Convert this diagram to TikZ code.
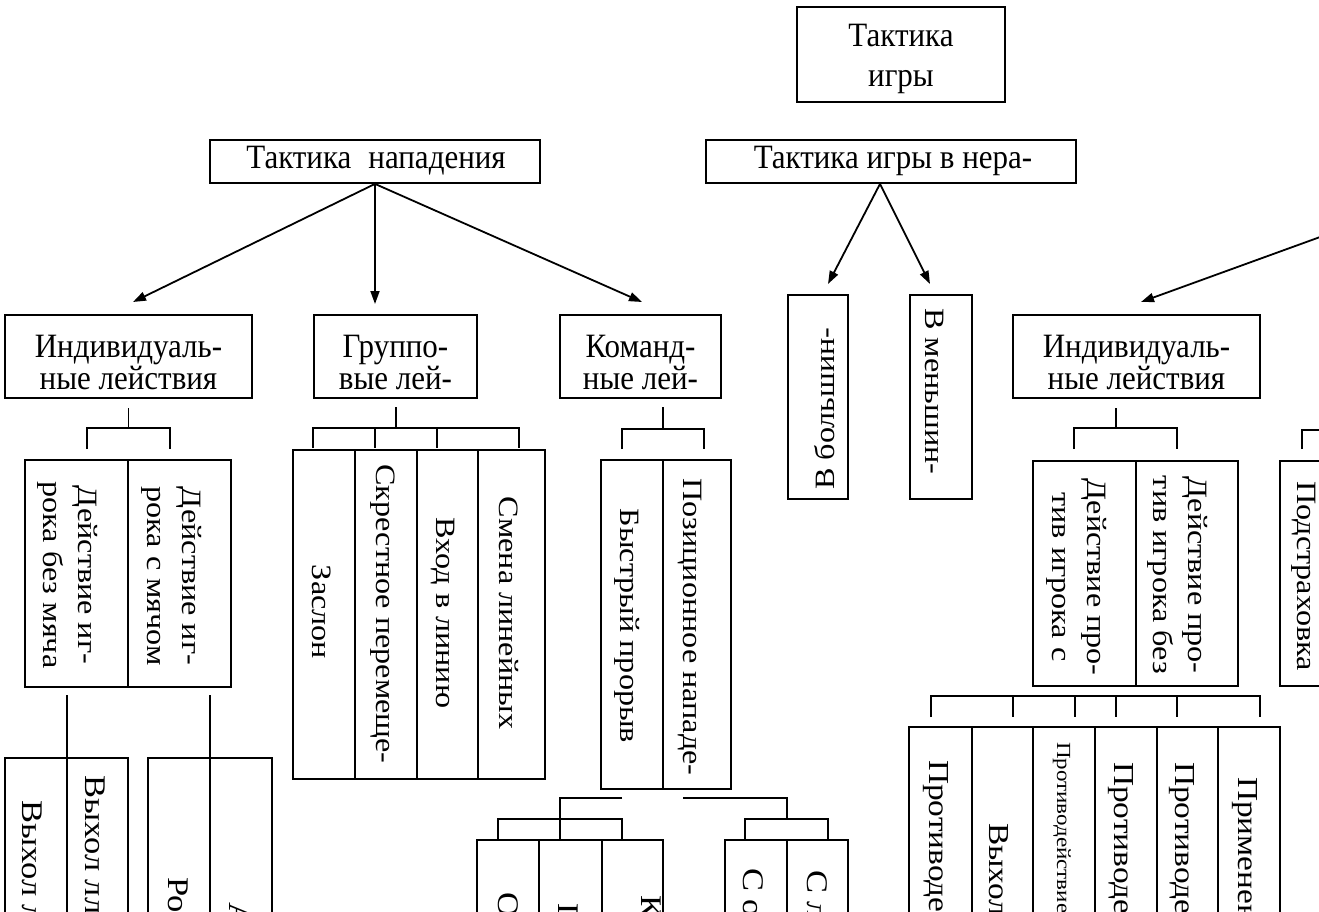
\documentclass[tikz,border=0pt]{standalone}
\usepackage{fontspec}
\setmainfont{Liberation Serif}
\usepackage{graphicx}
\usetikzlibrary{arrows.meta}

% horizontal text: optional baselineskip, stretched vertically
\newcommand\hz[2][27.3]{{\fontsize{31}{#1}\selectfont\scalebox{1}[1.1]{\begin{tabular}[t]{@{}c@{}}#2\end{tabular}}}}
% vertical text: optional font size, stretched along the reading direction
\newcommand\vz[2][28]{{\fontsize{#1}{35}\selectfont\scalebox{1.15}[1]{\begin{tabular}[t]{@{}c@{}}#2\end{tabular}}}}
% box from (x1,y1) to (x2,y2), pixel units, y downward
\newcommand\bx[5]{\node[box, minimum width={(#4-#2)*1pt}, minimum height={(#5-#3)*1pt}] (#1) at ({(#2+#4)/2},{(#3+#5)/2}) {};}

\tikzset{
  box/.style={draw, line width=1.8pt, inner sep=0pt},
  ln/.style={line width=1.8pt},
  arr/.style={line width=1.8pt, -{Triangle[length=13pt,width=9pt]}},
  ht/.style={inner sep=0pt, anchor=base},
  vc/.style={inner sep=0pt, anchor=base, rotate=-90},
  vs/.style={inner sep=0pt, anchor=base west, rotate=-90},
}

\begin{document}
\begin{tikzpicture}[x=1pt,y=-1pt]
\useasboundingbox (0,0) rectangle (1319,912);
\fill[white] (0,0) rectangle (1319,912);
\clip (0,0) rectangle (1319,912);

% ---------- boxes ----------
\bx{tg}{797}{7}{1005}{102}
\bx{tn}{210}{140}{540}{183}
\bx{tnr}{706}{140}{1076}{183}
\bx{indL}{5}{315}{252}{398}
\bx{grp}{314}{315}{477}{398}
\bx{kom}{560}{315}{721}{398}
\bx{indR}{1013}{315}{1260}{398}
\bx{bol}{788}{295}{848}{499}
\bx{men}{910}{295}{972}{499}
\bx{dL1}{25}{460}{128}{687}
\bx{dL2}{128}{460}{231}{687}
\bx{g1}{293}{450}{355}{779}
\bx{g2}{355}{450}{417}{779}
\bx{g3}{417}{450}{478}{779}
\bx{g4}{478}{450}{545}{779}
\bx{k1}{601}{460}{663}{789}
\bx{k2}{663}{460}{731}{789}
\bx{b1}{5}{758}{67}{960}
\bx{b2}{67}{758}{128}{960}
\bx{b3}{148}{758}{210}{960}
\bx{b4}{210}{758}{272}{960}
\bx{p1}{477}{840}{539}{960}
\bx{p2}{539}{840}{602}{960}
\bx{p3}{602}{840}{663}{960}
\bx{s1}{725}{840}{787}{960}
\bx{s2}{787}{840}{848}{960}
\bx{dR1}{1033}{461}{1136}{686}
\bx{dR2}{1136}{461}{1238}{686}
\bx{pod}{1280}{461}{1380}{686}
\bx{r1}{909}{727}{972}{960}
\bx{r2}{972}{727}{1033}{960}
\bx{r3}{1033}{727}{1095}{960}
\bx{r4}{1095}{727}{1157}{960}
\bx{r5}{1157}{727}{1218}{960}
\bx{r6}{1218}{727}{1280}{960}

% ---------- horizontal texts ----------
\node[ht] (tgT) at (901,47) {\hz[36]{Тактика\\игры}};
\node[ht] (tnT) at (376,169) {\hz{Тактика\hspace{.3em} нападения}};
\node[ht] (tnrT) at (893,169) {\hz{Тактика игры в нера-}};
\node[ht] (indLT) at (128.5,357) {\hz{Индивидуаль-\\ные лействия}};
\node[ht] (grpT) at (395.5,357) {\hz{Группо-\\вые лей-}};
\node[ht] (komT) at (640.5,357) {\hz{Команд-\\ные лей-}};
\node[ht] (indRT) at (1136.5,357) {\hz{Индивидуаль-\\ные лействия}};

% ---------- vertical texts ----------
\node[vc] (dL1T) at (78,575) {\vz{Действие иг-\\рока без мяча}};
\node[vc] (dL2T) at (182,576) {\vz{Действие иг-\\рока с мячом}};
\node[vc] (g1T) at (312,612) {\vz{Заслон}};
\node[vc] (g2T) at (376,614) {\vz{Скрестное перемеще-}};
\node[vc] (g3T) at (436,613) {\vz{Вход в линию}};
\node[vc] (g4T) at (499,613) {\vz{Смена линейных}};
\node[vc] (k1T) at (620,626) {\vz{Быстрый прорыв}};
\node[vc] (k2T) at (683,627) {\vz{Позиционное нападе-}};
\node[vc] (dR1T) at (1087,577) {\vz{Действие про-\\тив игрока с}};
\node[vc] (dR2T) at (1188,575) {\vz{Действие про-\\тив игрока без}};
\node[vc] (podT) at (1297,576) {\vz{Подстраховка}};
\node[inner sep=0pt, anchor=base west, rotate=90] (bolT) at (834,490) {\vz{В большин-}};
\node[vs] (menT) at (925,308) {\vz{В меньшин-}};

\node[vs] (b1T) at (23,800) {\vz[30]{Выхол лля}};
\node[vs] (b2T) at (85,775) {\vz[30]{Выхол лля}};
\node[vs] (b3T) at (168,877) {\vz[30]{Ро}};
\node[vs] (b4T) at (229,902) {\vz[30]{А}};
\node[vs] (p1T) at (498,892) {\vz[30]{О}};
\node[vs] (p2T) at (558,903) {\vz[30]{П}};
\node[vs] (p3T) at (641,895) {\vz[30]{К}};
\node[vs] (s1T) at (743,868) {\vz[30]{С о}};
\node[vs] (s2T) at (807,870) {\vz[30]{С л}};
\node[vs] (r1T) at (929,760) {\vz[29]{Противодей}};
\node[vs] (r2T) at (989,823) {\vz[29]{Выхол}};
\node[vs] (r3T) at (1057,742) {\vz[20]{Противодействие}};
\node[vs] (r4T) at (1114,762) {\vz[29]{Противодей}};
\node[vs] (r5T) at (1175,762) {\vz[29]{Противодей}};
\node[vs] (r6T) at (1238,777) {\vz[29]{Применени}};

% ---------- arrows ----------
\coordinate (aL) at (133,302);
\coordinate (aM) at (375,304);
\coordinate (aR) at (642,302);
\coordinate (aB) at (828,284);
\coordinate (aMe) at (930,284);
\coordinate (aI) at (1141,302);
\coordinate (tz) at (1400,208);
\coordinate (tnrS) at ([xshift=-11pt]tnr.south);
\draw[arr] (tn.south) -- (aL);
\draw[arr] (tn.south) -- (aM);
\draw[arr] (tn.south) -- (aR);
\draw[arr] (tnrS) -- (aB);
\draw[arr] (tnrS) -- (aMe);
\draw[arr] (tz) -- (aI);

% ---------- brackets ----------
\draw[ln] (128.5,408) -- (128.5,428);
\draw[ln] (87,449) -- (87,428) -- (170,428) -- (170,449);
\draw[ln] (396,407) -- (396,428);
\draw[ln] (313,448) -- (313,428) -- (519,428) -- (519,448);
\draw[ln] (375,428) -- (375,448);
\draw[ln] (437,428) -- (437,448);
\draw[ln] (663,407) -- (663,429);
\draw[ln] (622,449) -- (622,429) -- (704,429) -- (704,449);
\draw[ln] (1116,408) -- (1116,428);
\draw[ln] (1074,449) -- (1074,428) -- (1177,428) -- (1177,449);
\draw[ln] (1302,449) -- (1302,430) -- (1330,430);
\draw[ln] (67,695) -- (67,960);
\draw[ln] (210,695) -- (210,960);
\draw[ln] (622,798) -- (560,798) -- (560,819);
\draw[ln] (683,798) -- (787,798) -- (787,819);
\draw[ln] (498,839) -- (498,819) -- (622,819) -- (622,839);
\draw[ln] (560,819) -- (560,839);
\draw[ln] (745,839) -- (745,819) -- (828,819) -- (828,839);
\draw[ln] (931,717) -- (931,696) -- (1260,696) -- (1260,717);
\foreach \xx in {1013,1075,1116,1177} \draw[ln] (\xx,696) -- (\xx,717);
\end{tikzpicture}
\end{document}
